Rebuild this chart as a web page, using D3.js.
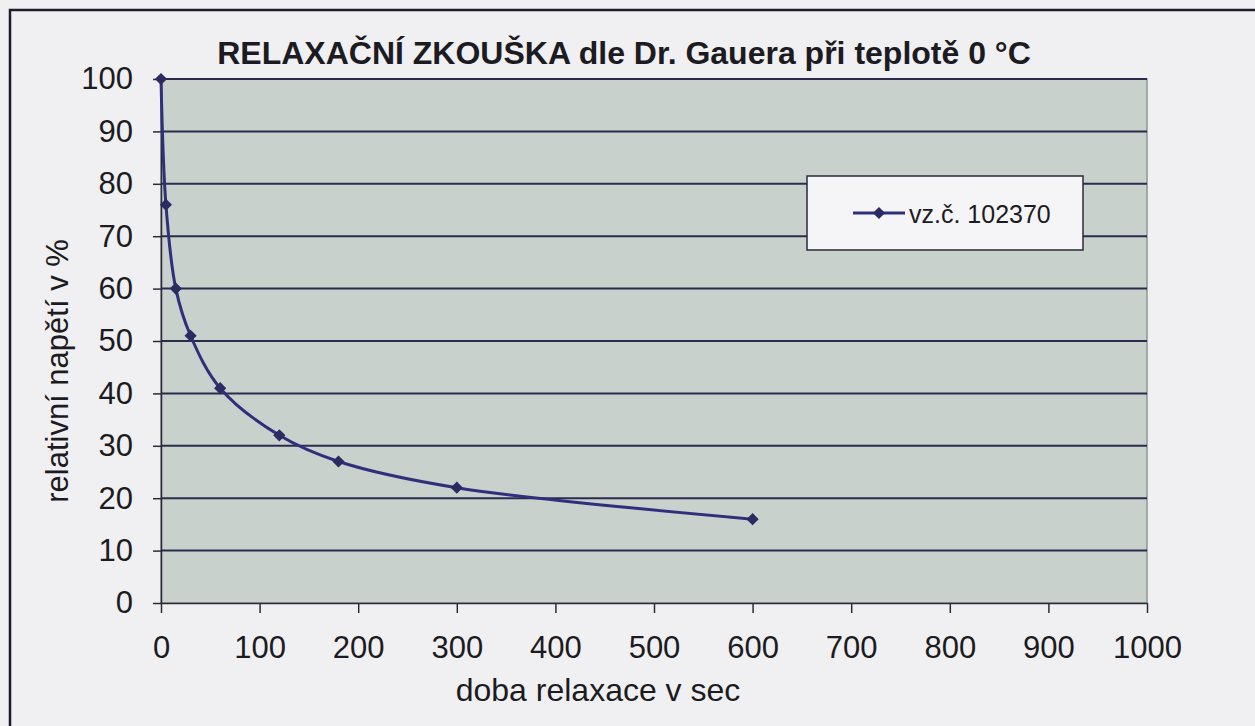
<!DOCTYPE html>
<html lang="cs">
<head>
<meta charset="UTF-8">
<title>Relaxační zkouška</title>
<style>
  body { margin: 0; background: #f0f0f2; }
  svg text { font-family: Arial, "Liberation Sans", sans-serif; fill: #1d1b22; }
  .axis path, .axis line { stroke: #2b2a3a; stroke-width: 1.5; }
  .grid line { stroke: #2c2b4e; stroke-width: 2; }
</style>
</head>
<body>
<div id="chart"></div>
<script src="https://cdnjs.cloudflare.com/ajax/libs/d3/7.8.5/d3.min.js"></script>
<script>
// data
var timeSec = [0, 5, 15, 30, 60, 120, 180, 300, 600];
var relStress = [100, 76, 60, 51, 41, 32, 27, 22, 16];
var xTicks = [0, 100, 200, 300, 400, 500, 600, 700, 800, 900, 1000];
var yTicks = [0, 10, 20, 30, 40, 50, 60, 70, 80, 90, 100];
var seriesName = "vz.č. 102370";

var W = 1255, H = 726;

var svg = d3.select("#chart").append("svg")
  .attr("width", W)
  .attr("height", H);

// outer chart frame (only top and left edges are visible in the scan)
svg.append("path")
  .attr("d", "M10,726 L10,10 L1255,10")
  .attr("fill", "none")
  .attr("stroke", "#1e1d28")
  .attr("stroke-width", 2.5);

var x = d3.scaleLinear().domain([0, 1000]).range([161, 1147]);
var y = d3.scaleLinear().domain([0, 100]).range([603, 79]);

// plot area
svg.append("rect")
  .attr("x", x(0))
  .attr("y", y(100))
  .attr("width", x(1000) - x(0))
  .attr("height", y(0) - y(100))
  .attr("fill", "#c9d1cd")
  .attr("stroke", "#8e9692")
  .attr("stroke-width", 1.5);

// horizontal gridlines
svg.append("g").attr("class", "grid")
  .selectAll("line")
  .data(yTicks.filter(function (d) { return d > 0; }))
  .enter().append("line")
  .attr("x1", x(0))
  .attr("x2", x(1000))
  .attr("y1", function (d) { return y(d); })
  .attr("y2", function (d) { return y(d); });

// axes
var yAxis = svg.append("g").attr("class", "axis")
  .attr("transform", "translate(" + x(0) + ",0)")
  .call(d3.axisLeft(y).tickValues(yTicks).tickSize(8).tickPadding(20).tickSizeOuter(0));
yAxis.selectAll("text").style("font-size", "31px");

var xAxis = svg.append("g").attr("class", "axis")
  .attr("transform", "translate(0," + y(0) + ")")
  .call(d3.axisBottom(x).tickValues(xTicks).tickFormat(d3.format("d"))
    .tickSize(10).tickPadding(23).tickSizeOuter(0));
xAxis.selectAll("text").style("font-size", "31px");

// axis titles
svg.append("text")
  .attr("x", 598)
  .attr("y", 701)
  .attr("text-anchor", "middle")
  .style("font-size", "32px")
  .text("doba relaxace v sec");

svg.append("text")
  .attr("transform", "translate(68,371) rotate(-90)")
  .attr("text-anchor", "middle")
  .style("font-size", "31px")
  .text("relativní napětí v %");

// title
svg.append("text")
  .attr("x", 624)
  .attr("y", 64)
  .attr("text-anchor", "middle")
  .style("font-size", "32px")
  .style("font-weight", "bold")
  .text("RELAXAČNÍ ZKOUŠKA dle Dr. Gauera při teplotě 0 °C");

// series
var pts = timeSec.map(function (t, i) { return [t, relStress[i]]; });

var line = d3.line()
  .x(function (d) { return x(d[0]); })
  .y(function (d) { return y(d[1]); })
  .curve(d3.curveCatmullRom.alpha(0.5));

svg.append("path")
  .datum(pts)
  .attr("d", line)
  .attr("fill", "none")
  .attr("stroke", "#2f2f7c")
  .attr("stroke-width", 3);

var diamond = d3.symbol().type(d3.symbolDiamond2).size(95);

svg.append("g")
  .selectAll("path")
  .data(pts)
  .enter().append("path")
  .attr("d", diamond)
  .attr("transform", function (d) { return "translate(" + x(d[0]) + "," + y(d[1]) + ")"; })
  .attr("fill", "#2b2b62");

// legend
var lg = svg.append("g").attr("transform", "translate(807,176)");
lg.append("rect")
  .attr("width", 276)
  .attr("height", 74)
  .attr("fill", "#f5f5f7")
  .attr("stroke", "#2a2a3a")
  .attr("stroke-width", 1.5);
lg.append("line")
  .attr("x1", 46).attr("x2", 98)
  .attr("y1", 37).attr("y2", 37)
  .attr("stroke", "#2f2f7c")
  .attr("stroke-width", 3);
lg.append("path")
  .attr("d", diamond)
  .attr("transform", "translate(72,37)")
  .attr("fill", "#2b2b62");
lg.append("text")
  .attr("x", 102)
  .attr("y", 47)
  .style("font-size", "25px")
  .text(seriesName);
</script>
</body>
</html>
